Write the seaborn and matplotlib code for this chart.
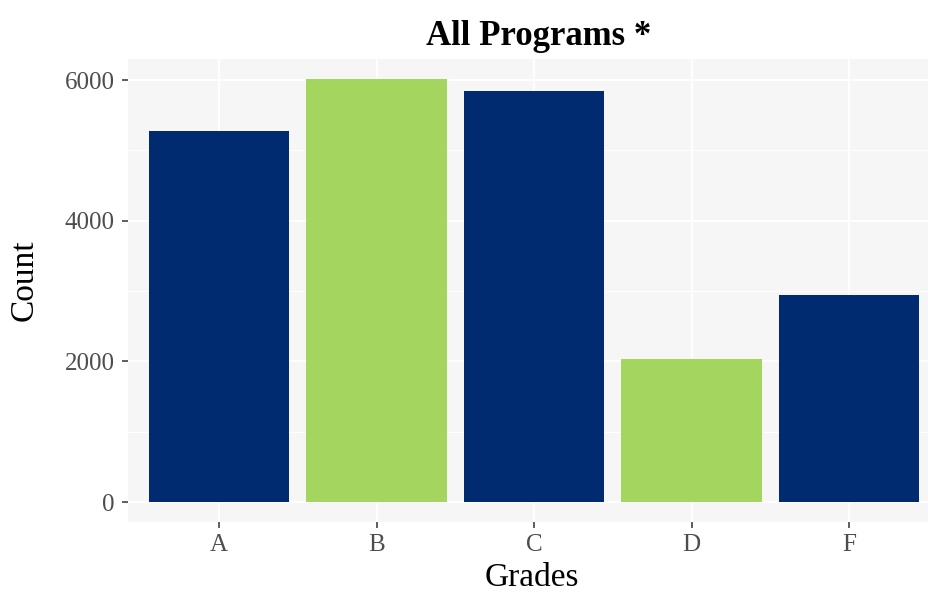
import matplotlib
matplotlib.use("Agg")
import matplotlib.pyplot as plt
import seaborn as sns
import pandas as pd
from matplotlib.ticker import MultipleLocator

grades = ["A", "B", "C", "D", "F"]
counts = [5275, 6010, 5845, 2035, 2945]
bar_colors = ["#002B71", "#A3D55F", "#002B71", "#A3D55F", "#002B71"]

df = pd.DataFrame({"Grades": grades, "Count": counts})

sns.set_theme(style="white")
plt.rcParams["font.family"] = ["Liberation Serif", "DejaVu Serif"]

fig = plt.figure(figsize=(9.29, 5.92), dpi=100)
ax = fig.add_axes([128/929, 70/592, 1 - 128/929, (522-59)/592])

sns.barplot(data=df, x="Grades", y="Count", hue="Grades",
            palette=bar_colors, legend=False, width=0.89,
            saturation=1, linewidth=0, edgecolor="none", ax=ax, zorder=3)

ax.set_facecolor("#F6F6F6")
ax.set_xlim(-0.578, 4.508)
ax.set_ylim(-284, 6299)
ax.yaxis.set_major_locator(MultipleLocator(2000))
ax.yaxis.set_minor_locator(MultipleLocator(1000))
ax.grid(which="major", color="white", lw=1.4, zorder=0)
ax.grid(which="minor", axis="y", color="white", lw=0.7, zorder=0)
ax.set_axisbelow(True)
for s in ax.spines.values():
    s.set_visible(False)

ax.tick_params(axis="both", which="major", length=4.5, width=1.1,
               color="#333333", labelcolor="#4D4D4D", labelsize=18)
ax.tick_params(axis="x", pad=4)
ax.tick_params(axis="y", pad=5)
ax.tick_params(which="minor", length=0)
ax.tick_params(left=True, bottom=True)

ax.set_xlabel("")
ax.set_ylabel("")
fig.text(532/929, 1 - 586/592, "Grades", ha="center", va="baseline",
         fontsize=24, color="black")
fig.text(24/929, 1 - 280/592, "Count", ha="center", va="center",
         rotation=90, fontsize=24, color="black")
fig.text(539/929, 1 - 45/592, "All Programs *", ha="center", va="baseline",
         fontsize=25, fontweight="bold", color="black")

fig.savefig("out.png", dpi=100)
